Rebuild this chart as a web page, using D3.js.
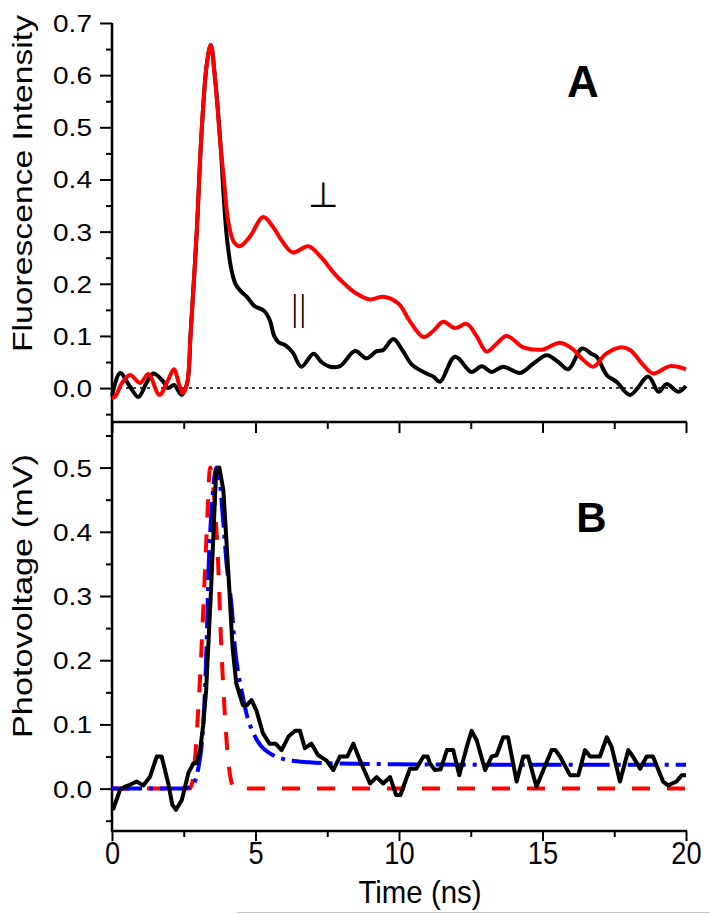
<!DOCTYPE html>
<html><head><meta charset="utf-8">
<script src="https://cdn.jsdelivr.net/npm/d3@7"></script>
<style>body{margin:0;background:#fff} svg{display:block}</style>
</head><body><svg id="c" width="710" height="915"></svg>
<script>
// ---------- data ----------
const timeTicksMajor = [0, 5, 10, 15, 20];
const timeTicksMinor = [2.5, 7.5, 12.5, 17.5];
const fluorTicksMajor = [0, 0.1, 0.2, 0.3, 0.4, 0.5, 0.6, 0.7];
const fluorTicksMinor = [-0.05, 0.05, 0.15, 0.25, 0.35, 0.45, 0.55, 0.65];
const voltTicksMajor = [0, 0.1, 0.2, 0.3, 0.4, 0.5];
const voltTicksMinor = [-0.05, 0.05, 0.15, 0.25, 0.35, 0.45, 0.55];

// Panel A: parallel (black)
const parT = [0,0.28,0.6,0.92,1.2,1.44,1.75,1.96,2.16,2.43,2.62,2.74,2.95,3.12,3.3,3.44,3.58,3.79,3.9,4.0,4.15,4.3,4.5,4.7,4.95,5.3,5.5,5.65,5.8,6.05,6.3,6.6,7.02,7.3,7.6,7.94,8.47,8.87,9.22,9.45,9.8,10.15,10.45,10.96,11.2,11.43,11.95,12.53,12.88,13.23,13.63,14.22,14.68,15.15,15.55,15.9,16.37,16.7,16.89,17.24,17.58,18.05,18.69,19.04,19.33,19.73,20];
const parV = [-0.015,0.029,0.005,-0.017,0.01,0.028,0.015,0.0,0.006,-0.013,0.01,0.105,0.297,0.489,0.62,0.658,0.6,0.46,0.36,0.29,0.23,0.2,0.185,0.175,0.158,0.148,0.13,0.1,0.088,0.082,0.068,0.041,0.066,0.05,0.041,0.042,0.071,0.057,0.071,0.073,0.094,0.07,0.045,0.028,0.022,0.012,0.06,0.031,0.042,0.031,0.041,0.029,0.047,0.063,0.05,0.036,0.076,0.066,0.06,0.025,0.012,-0.013,0.022,-0.007,0.008,-0.007,0.004];

// Panel A: perpendicular (red)
const perpT = [0,0.1,0.35,0.63,0.98,1.27,1.65,1.95,2.16,2.35,2.48,2.62,2.74,2.95,3.12,3.3,3.44,3.58,3.79,3.9,4.05,4.25,4.46,4.8,5.27,5.6,5.95,6.3,6.84,7.3,7.71,8.1,8.5,8.99,9.45,9.98,10.38,10.85,11.2,11.54,11.95,12.36,12.7,13.05,13.4,13.75,14.33,14.7,15.03,15.61,16.07,16.4,16.77,17.2,17.7,18.05,18.5,18.86,19.44,20];
const perpV = [-0.018,-0.017,0.01,0.025,0.01,0.027,-0.013,0.015,0.036,0.005,-0.01,0.01,0.105,0.297,0.489,0.62,0.658,0.6,0.46,0.4,0.32,0.28,0.272,0.29,0.328,0.31,0.28,0.26,0.272,0.25,0.222,0.2,0.182,0.17,0.175,0.162,0.128,0.098,0.11,0.127,0.115,0.123,0.1,0.07,0.085,0.1,0.078,0.074,0.074,0.087,0.074,0.055,0.041,0.065,0.078,0.073,0.045,0.028,0.042,0.036];

// Panel B: measured photovoltage (black)
const pvT = [0,0.05,0.28,0.45,0.63,0.86,1.09,1.32,1.56,1.73,1.96,2.1,2.23,2.43,2.66,2.83,2.95,3.07,3.18,3.28,3.45,3.63,3.74,3.88,4.09,4.2,4.33,4.56,4.7,4.86,5.03,5.26,5.49,5.7,5.91,6.15,6.38,6.55,6.72,6.95,7.18,7.47,7.71,7.94,8.2,8.41,8.64,8.99,9.22,9.45,9.69,9.9,10.05,10.38,10.6,10.85,11.0,11.08,11.25,11.45,11.67,11.89,12.1,12.36,12.53,12.71,13.0,13.23,13.4,13.63,13.8,14.1,14.33,14.5,14.79,15.03,15.32,15.45,15.61,15.96,16.25,16.48,16.66,17.0,17.24,17.41,17.7,17.99,18.15,18.4,18.63,18.85,19.2,19.38,19.67,19.85,20];
const pvV = [-0.032,-0.031,-0.002,0.003,0.006,0.011,0.005,0.018,0.05,0.05,0.008,-0.025,-0.033,-0.018,0.024,0.039,0.04,0.06,0.1,0.153,0.309,0.496,0.5,0.465,0.309,0.22,0.164,0.13,0.13,0.138,0.122,0.086,0.07,0.07,0.06,0.081,0.09,0.09,0.063,0.07,0.052,0.044,0.029,0.05,0.05,0.07,0.044,0.008,0.018,0.008,0.018,-0.01,-0.01,0.031,0.031,0.05,0.05,0.039,0.029,0.03,0.06,0.06,0.021,0.065,0.09,0.075,0.029,0.05,0.052,0.08,0.08,0.011,0.05,0.05,0.003,0.029,0.06,0.06,0.05,0.021,0.021,0.06,0.05,0.05,0.08,0.065,0.011,0.06,0.05,0.031,0.05,0.05,0.011,0.005,0.011,0.021,0.021];

// Panel B: fitted response (blue dash-dot)
const fitT = [0,2.5,2.8,3.0,3.18,3.3,3.36,3.45,3.53,3.65,3.75,3.88,3.99,4.17,4.29,4.4,4.55,4.69,4.93,5.2,5.5,6.07,6.88,8,10,15,20];
const fitV = [0,0,0.005,0.03,0.1,0.23,0.335,0.42,0.47,0.5,0.48,0.413,0.351,0.283,0.216,0.18,0.145,0.116,0.086,0.066,0.055,0.045,0.041,0.039,0.038,0.037,0.037];

// Panel B: excitation pulse (red dashed)
const pulseT = [0,2.7,2.8,2.9,3.0,3.1,3.2,3.3,3.42,3.5,3.6,3.7,3.8,3.9,4.0,4.1,4.2,4.3,20];
const pulseV = [0,0,0.01,0.05,0.12,0.2,0.3,0.4,0.5,0.48,0.43,0.35,0.23,0.14,0.07,0.025,0.005,0,0];

// ---------- drawing ----------
const svg = d3.select("#c");
svg.append("rect").attr("width",710).attr("height",915).attr("fill","#fff");

const x = d3.scaleLinear().domain([0,20]).range([112,686]);
const yA = d3.scaleLinear().domain([-0.065,0.7]).range([422,23]);
const yB = d3.scaleLinear().domain([-0.066,0.571]).range([831,422]);

const zip = (ts, vs) => ts.map((t,i)=>[t, vs[i]]);
const FONT = "'Liberation Sans', Arial, sans-serif";

function leftAxis(y, major, minor, xpos){
  const g = svg.append("g").attr("transform",`translate(${xpos},0)`);
  g.append("g").call(d3.axisLeft(y).tickValues(minor).tickSize(6).tickFormat(""))
    .call(s=>s.select(".domain").remove());
  const gm = g.append("g").call(d3.axisLeft(y).tickValues(major).tickSize(12).tickFormat(d3.format(".1f")))
    .call(s=>s.select(".domain").remove());
  gm.selectAll("text").attr("x",null).attr("dy",null)
    .attr("transform","translate(-20,8.5) scale(1.22,1)")
    .attr("font-family",FONT).attr("font-size",23).attr("fill","#000").attr("text-anchor","end");
  g.selectAll(".tick line").attr("stroke","#000").attr("stroke-width",2);
}
leftAxis(yA, fluorTicksMajor, fluorTicksMinor, 112);
leftAxis(yB, voltTicksMajor, voltTicksMinor, 112);

// top line of panel B (ticks pointing down)
const gt = svg.append("g").attr("transform","translate(0,422)");
gt.append("g").call(d3.axisBottom(x).tickValues(timeTicksMinor).tickSize(7).tickFormat("")).call(s=>s.select(".domain").remove());
gt.append("g").call(d3.axisBottom(x).tickValues(timeTicksMajor).tickSize(11).tickFormat("")).call(s=>s.select(".domain").remove());
gt.selectAll(".tick line").attr("stroke","#000").attr("stroke-width",2);

// bottom axis
const gb = svg.append("g").attr("transform","translate(0,831)");
gb.append("g").call(d3.axisBottom(x).tickValues(timeTicksMinor).tickSize(6).tickFormat("")).call(s=>s.select(".domain").remove());
const gbm = gb.append("g").call(d3.axisBottom(x).tickValues(timeTicksMajor).tickSize(10).tickFormat(d3.format("d"))).call(s=>s.select(".domain").remove());
gbm.selectAll("text").attr("y",null).attr("dy",null)
  .attr("transform","translate(0,33) scale(0.85,1)")
  .attr("font-family",FONT).attr("font-size",32).attr("fill","#000").attr("text-anchor","middle");
gb.selectAll(".tick line").attr("stroke","#000").attr("stroke-width",2);

// axis lines
const ax = svg.append("g").attr("stroke","#000").attr("stroke-width",2.5).attr("fill","none");
ax.append("line").attr("x1",x(0)).attr("x2",x(0)).attr("y1",yA(0.7)).attr("y2",yB.range()[0]);
ax.append("line").attr("x1",x(0)-1).attr("x2",x(20)+1).attr("y1",422).attr("y2",422);
ax.append("line").attr("x1",x(0)-1).attr("x2",x(20)+1).attr("y1",yB.range()[0]).attr("y2",yB.range()[0]);

// zero dotted line panel A
svg.append("line").attr("x1",x(0)).attr("x2",x(20)).attr("y1",yA(0)).attr("y2",yA(0))
  .attr("stroke","#000").attr("stroke-width",1.5).attr("stroke-dasharray","3,4");

// Panel A curves
const lineA = d3.line().x(d=>x(d[0])).y(d=>yA(d[1])).curve(d3.curveCatmullRom.alpha(0.5));
svg.append("path").datum(zip(parT,parV)).attr("d",lineA)
  .attr("fill","none").attr("stroke","#000").attr("stroke-width",4).attr("stroke-linejoin","round");
svg.append("path").datum(zip(perpT,perpV)).attr("d",lineA)
  .attr("fill","none").attr("stroke","#ff0000").attr("stroke-width",4).attr("stroke-linejoin","round");

// Panel B curves
const lineBs = d3.line().x(d=>x(d[0])).y(d=>yB(d[1])).curve(d3.curveMonotoneX);
const lineBl = d3.line().x(d=>x(d[0])).y(d=>yB(d[1]));
svg.append("path").datum(zip(pulseT,pulseV)).attr("d",lineBs)
  .attr("fill","none").attr("stroke","#ff0000").attr("stroke-width",4).attr("stroke-dasharray","18,17");
svg.append("path").datum(zip(fitT,fitV)).attr("d",lineBs)
  .attr("fill","none").attr("stroke","#0000ff").attr("stroke-width",4).attr("stroke-dasharray","30,7,4,7");
svg.append("path").datum(zip(pvT,pvV)).attr("d",lineBl)
  .attr("fill","none").attr("stroke","#000").attr("stroke-width",4).attr("stroke-linejoin","round");

// labels
svg.append("text").attr("transform","translate(32,183.5) rotate(-90)")
  .attr("text-anchor","middle").attr("font-family",FONT).attr("font-size",28)
  .attr("textLength",337).attr("lengthAdjust","spacingAndGlyphs").text("Fluorescence Intensity");
svg.append("text").attr("transform","translate(32,596) rotate(-90)")
  .attr("text-anchor","middle").attr("font-family",FONT).attr("font-size",28)
  .attr("textLength",284).attr("lengthAdjust","spacingAndGlyphs").text("Photovoltage (mV)");
svg.append("text").attr("transform","translate(420,903) scale(0.95,1)").attr("text-anchor","middle")
  .attr("font-family",FONT).attr("font-size",31).text("Time (ns)");

svg.append("text").attr("x",583).attr("y",97).attr("text-anchor","middle")
  .attr("font-family",FONT).attr("font-weight","bold").attr("font-size",44).text("A");
svg.append("text").attr("x",591.5).attr("y",532).attr("text-anchor","middle")
  .attr("font-family",FONT).attr("font-weight","bold").attr("font-size",42).text("B");

svg.append("text").attr("x",323).attr("y",207).attr("text-anchor","middle")
  .attr("font-family","'DejaVu Sans', sans-serif").attr("font-weight",200).attr("font-size",35).text("⊥");
svg.append("text").attr("x",297).attr("y",320).attr("text-anchor","middle")
  .attr("font-family","'DejaVu Sans', sans-serif").attr("font-weight",200).attr("font-size",34)
  .attr("letter-spacing",-3.5).text("||");

// thin separator at bottom
svg.append("line").attr("x1",237).attr("x2",710).attr("y1",912.5).attr("y2",912.5)
  .attr("stroke","#c8c8c8").attr("stroke-width",1);
</script>
</body></html>
